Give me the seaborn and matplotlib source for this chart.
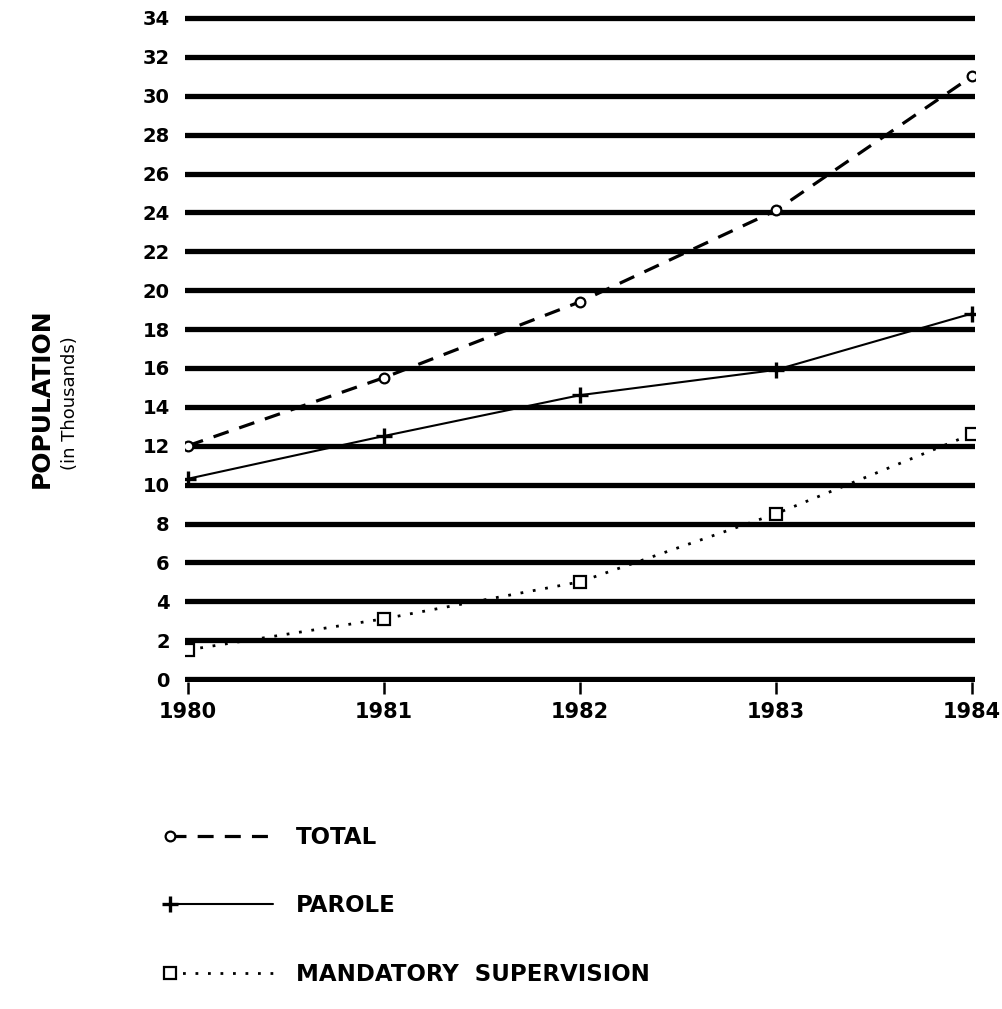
"""
Parole / mandatory supervision population, 1980-1984
"""
import matplotlib
matplotlib.use("Agg")
import matplotlib.pyplot as plt
from matplotlib.lines import Line2D
from matplotlib.legend_handler import HandlerLine2D
import seaborn as sns

# データ (千人)
years = [1980, 1981, 1982, 1983, 1984]
total = [12.0, 15.5, 19.4, 24.1, 31.0]
parole = [10.3, 12.5, 14.6, 15.9, 18.8]
mandatory = [1.5, 3.1, 5.0, 8.5, 12.6]
series_names = ["TOTAL", "PAROLE", "MANDATORY  SUPERVISION"]
y_ticks = list(range(0, 35, 2))

sns.set_style("white")
plt.rcParams["font.family"] = ["DejaVu Sans"]
plt.rcParams["text.color"] = "black"
plt.rcParams["xtick.color"] = "black"
plt.rcParams["ytick.color"] = "black"


# 凡例: マーカーを線の左端だけに置く
class LeftMarkerHandler(HandlerLine2D):
    def create_artists(self, legend, orig_handle, xdescent, ydescent,
                       width, height, fontsize, trans):
        y = height / 2 - ydescent
        line = Line2D([-xdescent, width - xdescent], [y, y])
        self.update_prop(line, orig_handle, legend)
        line.set_markevery([0])
        line.set_transform(trans)
        return [line]


fig = plt.figure(figsize=(10.03, 10.09), dpi=100)
ax = fig.add_axes([0.1844, 0.3241, 0.7876, 0.6610])

common = dict(color="black", markeredgecolor="black", markerfacecolor="white")
sns.lineplot(x=years, y=total, ax=ax, marker="o", markersize=7,
             markeredgewidth=1.6, linewidth=2.3, linestyle=(0, (5, 3.5)),
             label=series_names[0], **common)
sns.lineplot(x=years, y=parole, ax=ax, marker="+", markersize=12,
             markeredgewidth=2.4, linewidth=1.5, linestyle="-",
             label=series_names[1], **common)
sns.lineplot(x=years, y=mandatory, ax=ax, marker="s", markersize=9,
             markeredgewidth=1.6, linewidth=2.0, linestyle=(0, (1, 3.5)),
             label=series_names[2], **common)

ax.set_xlim(1979.985, 1984.015)
ax.set_ylim(-0.15, 34.15)
ax.set_yticks(y_ticks)
ax.set_yticklabels([str(v) for v in y_ticks], fontsize=14, fontweight="bold")
ax.set_xticks(years)
ax.set_xticklabels([str(v) for v in years], fontsize=15, fontweight="bold")
ax.tick_params(axis="y", length=0, pad=11)
ax.tick_params(axis="x", direction="out", length=8.6, width=1.8,
               color="black", pad=6, bottom=True)
ax.grid(axis="y", color="black", linewidth=3.8)
ax.grid(axis="x", visible=False)
ax.set_axisbelow(True)
for s in ax.spines.values():
    s.set_visible(False)
ax.set_xlabel("")
ax.set_ylabel("")

fig.text(42 / 1003, 1 - 398 / 1009, "POPULATION", rotation=90,
         ha="center", va="center", fontsize=18, fontweight="bold")
fig.text(70 / 1003, 1 - 403 / 1009, "(in Thousands)", rotation=90,
         ha="center", va="center", fontsize=13)

handles = ax.get_lines()[:3]
ax.get_legend().remove()
leg = fig.legend(handles, series_names, loc="center left",
                 bbox_to_anchor=(170 / 1003, 1 - 906 / 1009),
                 frameon=False, prop=dict(size=16.5, weight="bold"),
                 handlelength=4.5, handletextpad=1.0, labelspacing=2.0,
                 borderpad=0, borderaxespad=0,
                 handler_map={Line2D: LeftMarkerHandler()})

fig.savefig("out.png", dpi=100, facecolor="white")
